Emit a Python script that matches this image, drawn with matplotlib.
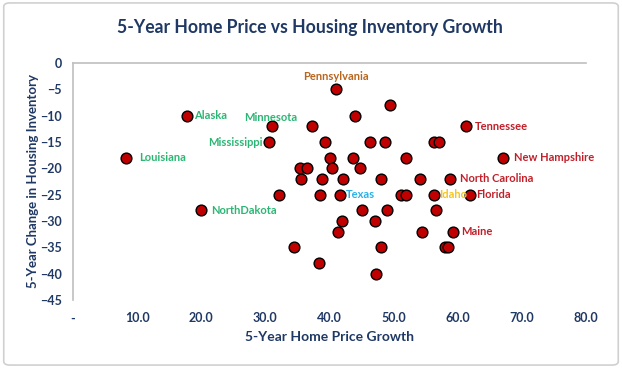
import matplotlib.pyplot as plt
from matplotlib.patches import FancyBboxPatch

# 5-year home price growth (x) vs 5-year change in housing inventory (y)
price_growth = [41.0, 49.4, 17.7, 44.0, 31.0, 37.2, 61.3, 30.5, 39.3, 46.3,
                48.6, 56.3, 57.0, 8.3, 40.0, 43.7, 51.9, 67.1, 35.4, 36.5,
                40.4, 44.7, 35.6, 38.8, 42.1, 48.1, 54.1, 58.8, 32.1, 38.5,
                41.7, 51.2, 51.9, 56.3, 61.9, 20.0, 45.0, 49.0, 56.6, 41.9,
                47.1, 41.3, 54.5, 59.3, 34.4, 48.1, 58.0, 58.5, 38.3, 47.2]
inventory_change = [-5, -8, -10, -10, -12, -12, -12, -15, -15, -15,
                    -15, -15, -15, -18, -18, -18, -18, -18, -20, -20,
                    -20, -20, -22, -22, -22, -22, -22, -22, -25, -25,
                    -25, -25, -25, -25, -25, -28, -28, -28, -28, -30,
                    -30, -32, -32, -32, -35, -35, -35, -35, -38, -40]

# labelled states: name, index of point, colour, placement
label_names = ["Pennsylvania", "Alaska", "Minnesota", "Mississippi", "Louisiana",
               "NorthDakota", "Tennessee", "New Hampshire", "North Carolina",
               "Texas", "Idaho", "Florida", "Maine"]
label_index = [0, 2, 4, 7, 13, 35, 6, 17, 27, 30, 33, 34, 43]
label_colors = ["#B8651E", "#2BB673", "#2BB673", "#2BB673", "#2BB673",
                "#2BB673", "#C0202A", "#C0202A", "#C0202A",
                "#29B0E8", "#F5C518", "#C0202A", "#C0202A"]
label_ha = ["center", "left", "center", "right", "left",
            "left", "left", "left", "left",
            "left", "left", "left", "left"]
label_dx = [0, 5.5, -1, -4, 9.5, 7, 6, 8, 7, 4, 3.5, 4.5, 6]
label_dy = [9, 0, 6, 0, 0, 0, 0, 0, 0, 0, 0, 0, 0]

navy = "#1F3864"
plt.rcParams["font.family"] = ["Lato", "DejaVu Sans"]

fig = plt.figure(figsize=(6.22, 3.68), dpi=100)
border = FancyBboxPatch((0.006, 0.008), 0.988, 0.984, boxstyle="round,pad=0,rounding_size=0.01",
                        transform=fig.transFigure, fc="white", ec="#D0D0D0", lw=1.2, zorder=-1)
fig.patches.append(border)
ax = fig.add_axes([73 / 622, 1 - 300 / 368, 513 / 622, 237 / 368])
ax.patch.set_alpha(0)

ax.scatter(price_growth, inventory_change, s=60, c="#C00000", edgecolors="black",
           linewidths=1.0, zorder=3)

for name, i, col, ha, dx, dy in zip(label_names, label_index, label_colors,
                                    label_ha, label_dx, label_dy):
    ax.annotate(name, (price_growth[i], inventory_change[i]), xytext=(dx, dy),
                textcoords="offset points", ha=ha, va="center",
                color=col, fontsize=8, fontweight="bold")

ax.set_xlim(0, 80)
ax.set_ylim(-45, 0)
ax.set_xticks(range(0, 90, 10))
ax.set_xticklabels(["-"] + ["{:.1f}".format(v) for v in range(10, 90, 10)])
ax.set_yticks(range(-45, 5, 5))

for side in ["bottom", "right"]:
    ax.spines[side].set_visible(False)
for side in ["top", "left"]:
    ax.spines[side].set_color("#BFBFBF")
    ax.spines[side].set_linewidth(1.2)

ax.tick_params(axis="both", length=0, labelcolor=navy, labelsize=9)
ax.tick_params(axis="x", pad=9)
ax.tick_params(axis="y", pad=8)
for lbl in ax.get_xticklabels() + ax.get_yticklabels():
    lbl.set_fontweight("bold")

ax.set_xlabel("5-Year Home Price Growth", color=navy, fontsize=10, fontweight="bold", labelpad=5)
ax.set_ylabel("5-Year Change in Housing Inventory", color=navy, fontsize=9.5, fontweight="bold", labelpad=1)
fig.text(0.498, 0.925, "5-Year Home Price vs Housing Inventory Growth", color=navy,
         fontsize=12.7, fontweight="bold", ha="center", va="center")

fig.savefig("out.png", dpi=100)
